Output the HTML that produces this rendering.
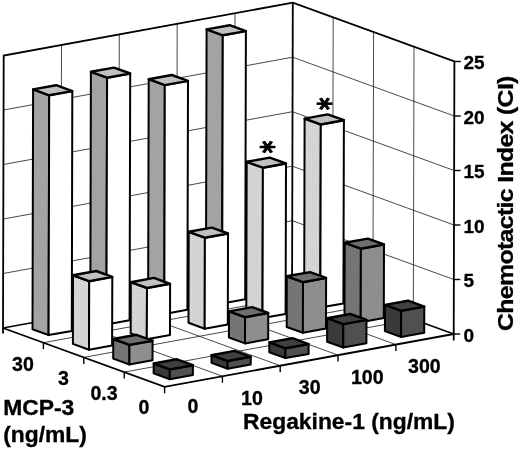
<!DOCTYPE html>
<html><head><meta charset="utf-8"><title>Chemotactic Index</title>
<style>
html,body{margin:0;padding:0;background:#fff;}
svg{display:block;}
text{font-family:"Liberation Sans",sans-serif;font-weight:bold;fill:#000;stroke:#000;stroke-width:0.3px;}
</style></head><body>
<svg width="520" height="449" viewBox="0 0 520 449">
<defs>
<pattern id="pl" width="2" height="2" patternUnits="userSpaceOnUse"><rect width="2" height="2" fill="#c4c4c4"/><rect width="1" height="1" fill="#b6b6b6"/></pattern>
<pattern id="pl2" width="2" height="2" patternUnits="userSpaceOnUse"><rect width="2" height="2" fill="#d8d8d8"/><rect width="1" height="1" fill="#c8c8c8"/></pattern>
</defs>
<rect width="520" height="449" fill="#fff"/>
<polygon points="3.0,328.0 292.1,275.2 292.8,2.7 3.7,55.5" fill="#fff" stroke="none" stroke-width="0" stroke-linejoin="round" />
<polygon points="292.1,275.2 453.7,334.0 454.4,61.5 292.8,2.7" fill="#fff" stroke="none" stroke-width="0" stroke-linejoin="round" />
<line x1="3.1" y1="273.5" x2="292.3" y2="220.7" stroke="#1a1a1a" stroke-width="0.8" />
<line x1="292.3" y1="220.7" x2="453.8" y2="279.5" stroke="#1a1a1a" stroke-width="0.8" />
<line x1="3.3" y1="219.0" x2="292.4" y2="166.2" stroke="#1a1a1a" stroke-width="0.8" />
<line x1="292.4" y1="166.2" x2="454.0" y2="225.0" stroke="#1a1a1a" stroke-width="0.8" />
<line x1="3.4" y1="164.5" x2="292.5" y2="111.7" stroke="#1a1a1a" stroke-width="0.8" />
<line x1="292.5" y1="111.7" x2="454.1" y2="170.5" stroke="#1a1a1a" stroke-width="0.8" />
<line x1="3.5" y1="110.0" x2="292.7" y2="57.2" stroke="#1a1a1a" stroke-width="0.8" />
<line x1="292.7" y1="57.2" x2="454.2" y2="116.0" stroke="#1a1a1a" stroke-width="0.8" />
<line x1="60.8" y1="317.4" x2="61.5" y2="44.9" stroke="#1a1a1a" stroke-width="0.8" />
<line x1="118.7" y1="306.9" x2="119.3" y2="34.4" stroke="#1a1a1a" stroke-width="0.8" />
<line x1="176.5" y1="296.3" x2="177.2" y2="23.8" stroke="#1a1a1a" stroke-width="0.8" />
<line x1="234.3" y1="285.8" x2="235.0" y2="13.3" stroke="#1a1a1a" stroke-width="0.8" />
<line x1="332.5" y1="289.9" x2="333.2" y2="17.4" stroke="#1a1a1a" stroke-width="0.8" />
<line x1="372.9" y1="304.6" x2="373.6" y2="32.1" stroke="#1a1a1a" stroke-width="0.8" />
<line x1="413.3" y1="319.3" x2="414.0" y2="46.8" stroke="#1a1a1a" stroke-width="0.8" />
<line x1="60.8" y1="317.4" x2="222.4" y2="376.2" stroke="#1a1a1a" stroke-width="0.8" />
<line x1="118.7" y1="306.9" x2="280.2" y2="365.7" stroke="#1a1a1a" stroke-width="0.8" />
<line x1="176.5" y1="296.3" x2="338.0" y2="355.1" stroke="#1a1a1a" stroke-width="0.8" />
<line x1="234.3" y1="285.8" x2="395.9" y2="344.6" stroke="#1a1a1a" stroke-width="0.8" />
<line x1="43.4" y1="342.7" x2="332.5" y2="289.9" stroke="#1a1a1a" stroke-width="0.8" />
<line x1="83.8" y1="357.4" x2="372.9" y2="304.6" stroke="#1a1a1a" stroke-width="0.8" />
<line x1="124.2" y1="372.1" x2="413.3" y2="319.3" stroke="#1a1a1a" stroke-width="0.8" />
<line x1="3.0" y1="328.0" x2="292.1" y2="275.2" stroke="#000" stroke-width="1.5" />
<line x1="292.1" y1="275.2" x2="453.7" y2="334.0" stroke="#000" stroke-width="1.5" />
<polyline points="3.0,333.4 3.7,55.5 292.8,2.7 454.4,61.5 453.7,340.5" fill="none" stroke="#000" stroke-width="1.8" stroke-linejoin="miter"/>
<line x1="292.1" y1="275.2" x2="292.8" y2="2.7" stroke="#000" stroke-width="1.8" />
<polyline points="3.0,328.0 164.6,386.8 453.7,334.0" fill="none" stroke="#000" stroke-width="1.8" stroke-linejoin="miter"/>
<line x1="43.4" y1="342.7" x2="43.4" y2="349.2" stroke="#000" stroke-width="1.4" />
<line x1="83.8" y1="357.4" x2="83.8" y2="363.9" stroke="#000" stroke-width="1.4" />
<line x1="124.2" y1="372.1" x2="124.2" y2="378.6" stroke="#000" stroke-width="1.4" />
<line x1="164.6" y1="386.8" x2="164.6" y2="393.3" stroke="#000" stroke-width="1.4" />
<line x1="222.4" y1="376.2" x2="222.4" y2="382.7" stroke="#000" stroke-width="1.4" />
<line x1="280.2" y1="365.7" x2="280.2" y2="372.2" stroke="#000" stroke-width="1.4" />
<line x1="338.0" y1="355.1" x2="338.0" y2="361.6" stroke="#000" stroke-width="1.4" />
<line x1="395.9" y1="344.6" x2="395.9" y2="351.1" stroke="#000" stroke-width="1.4" />
<line x1="453.7" y1="334.0" x2="460.2" y2="334.0" stroke="#000" stroke-width="1.4" />
<line x1="453.8" y1="279.5" x2="460.3" y2="279.5" stroke="#000" stroke-width="1.4" />
<line x1="454.0" y1="225.0" x2="460.5" y2="225.0" stroke="#000" stroke-width="1.4" />
<line x1="454.1" y1="170.5" x2="460.6" y2="170.5" stroke="#000" stroke-width="1.4" />
<line x1="454.2" y1="116.0" x2="460.7" y2="116.0" stroke="#000" stroke-width="1.4" />
<line x1="454.4" y1="61.5" x2="460.9" y2="61.5" stroke="#000" stroke-width="1.4" />
<g><polygon points="205.9,297.6 222.1,303.4 222.8,35.3 206.6,29.4" fill="#a3a3a3" stroke="#000" stroke-width="2.0" stroke-linejoin="round" /><polygon points="222.1,303.4 245.2,299.2 245.9,31.1 222.8,35.3" fill="#ffffff" stroke="#000" stroke-width="2.0" stroke-linejoin="round" /><polygon points="206.6,29.4 229.7,25.2 245.9,31.1 222.8,35.3" fill="url(#pl)" stroke="#000" stroke-width="2.4" stroke-linejoin="round" /></g>
<g><polygon points="148.1,308.1 164.3,314.0 164.8,85.1 148.7,79.2" fill="#a3a3a3" stroke="#000" stroke-width="2.0" stroke-linejoin="round" /><polygon points="164.3,314.0 187.4,309.8 188.0,80.9 164.8,85.1" fill="#ffffff" stroke="#000" stroke-width="2.0" stroke-linejoin="round" /><polygon points="148.7,79.2 171.8,75.0 188.0,80.9 164.8,85.1" fill="url(#pl)" stroke="#000" stroke-width="2.4" stroke-linejoin="round" /></g>
<g><polygon points="90.3,318.7 106.4,324.6 107.1,77.7 90.9,71.8" fill="#a3a3a3" stroke="#000" stroke-width="2.0" stroke-linejoin="round" /><polygon points="106.4,324.6 129.6,320.3 130.2,73.5 107.1,77.7" fill="#ffffff" stroke="#000" stroke-width="2.0" stroke-linejoin="round" /><polygon points="90.9,71.8 114.0,67.6 130.2,73.5 107.1,77.7" fill="url(#pl)" stroke="#000" stroke-width="2.4" stroke-linejoin="round" /></g>
<g><polygon points="32.5,329.2 48.6,335.1 49.2,95.3 33.1,89.4" fill="#a3a3a3" stroke="#000" stroke-width="2.0" stroke-linejoin="round" /><polygon points="48.6,335.1 71.8,330.9 72.3,91.1 49.2,95.3" fill="#ffffff" stroke="#000" stroke-width="2.0" stroke-linejoin="round" /><polygon points="33.1,89.4 56.2,85.2 72.3,91.1 49.2,95.3" fill="url(#pl)" stroke="#000" stroke-width="2.4" stroke-linejoin="round" /></g>
<g><polygon points="304.2,301.7 320.3,307.6 320.8,124.5 304.6,118.6" fill="url(#pl2)" stroke="#000" stroke-width="2.0" stroke-linejoin="round" /><polygon points="320.3,307.6 343.4,303.4 343.9,120.2 320.8,124.5" fill="#ffffff" stroke="#000" stroke-width="2.0" stroke-linejoin="round" /><polygon points="304.6,118.6 327.7,114.4 343.9,120.2 320.8,124.5" fill="url(#pl)" stroke="#000" stroke-width="2.4" stroke-linejoin="round" /></g>
<g><polygon points="246.3,312.3 262.5,318.1 262.9,167.7 246.7,161.8" fill="url(#pl2)" stroke="#000" stroke-width="2.0" stroke-linejoin="round" /><polygon points="262.5,318.1 285.6,313.9 286.0,163.5 262.9,167.7" fill="#ffffff" stroke="#000" stroke-width="2.0" stroke-linejoin="round" /><polygon points="246.7,161.8 269.8,157.6 286.0,163.5 262.9,167.7" fill="url(#pl)" stroke="#000" stroke-width="2.4" stroke-linejoin="round" /></g>
<g><polygon points="188.5,322.8 204.7,328.7 204.9,237.7 188.7,231.8" fill="url(#pl2)" stroke="#000" stroke-width="2.0" stroke-linejoin="round" /><polygon points="204.7,328.7 227.8,324.5 228.0,233.5 204.9,237.7" fill="#ffffff" stroke="#000" stroke-width="2.0" stroke-linejoin="round" /><polygon points="188.7,231.8 211.9,227.6 228.0,233.5 204.9,237.7" fill="url(#pl)" stroke="#000" stroke-width="2.4" stroke-linejoin="round" /></g>
<g><polygon points="130.7,333.4 146.8,339.3 147.0,288.0 130.8,282.2" fill="url(#pl2)" stroke="#000" stroke-width="2.0" stroke-linejoin="round" /><polygon points="146.8,339.3 170.0,335.0 170.1,283.8 147.0,288.0" fill="#ffffff" stroke="#000" stroke-width="2.0" stroke-linejoin="round" /><polygon points="130.8,282.2 153.9,277.9 170.1,283.8 147.0,288.0" fill="url(#pl)" stroke="#000" stroke-width="2.4" stroke-linejoin="round" /></g>
<g><polygon points="72.9,343.9 89.0,349.8 89.2,281.2 73.0,275.3" fill="url(#pl2)" stroke="#000" stroke-width="2.0" stroke-linejoin="round" /><polygon points="89.0,349.8 112.1,345.6 112.3,276.9 89.2,281.2" fill="#ffffff" stroke="#000" stroke-width="2.0" stroke-linejoin="round" /><polygon points="73.0,275.3 96.2,271.0 112.3,276.9 89.2,281.2" fill="url(#pl)" stroke="#000" stroke-width="2.4" stroke-linejoin="round" /></g>
<g><polygon points="344.5,316.4 360.7,322.3 360.9,248.7 344.7,242.8" fill="#757575" stroke="#000" stroke-width="2.0" stroke-linejoin="round" /><polygon points="360.7,322.3 383.8,318.1 384.0,244.5 360.9,248.7" fill="#8e8e8e" stroke="#000" stroke-width="2.0" stroke-linejoin="round" /><polygon points="344.7,242.8 367.9,238.6 384.0,244.5 360.9,248.7" fill="#6e6e6e" stroke="#000" stroke-width="2.4" stroke-linejoin="round" /></g>
<g><polygon points="286.7,327.0 302.9,332.8 303.0,282.2 286.8,276.3" fill="#757575" stroke="#000" stroke-width="2.0" stroke-linejoin="round" /><polygon points="302.9,332.8 326.0,328.6 326.1,277.9 303.0,282.2" fill="#8e8e8e" stroke="#000" stroke-width="2.0" stroke-linejoin="round" /><polygon points="286.8,276.3 310.0,272.1 326.1,277.9 303.0,282.2" fill="#6e6e6e" stroke="#000" stroke-width="2.4" stroke-linejoin="round" /></g>
<g><polygon points="228.9,337.5 245.0,343.4 245.1,317.2 229.0,311.4" fill="#757575" stroke="#000" stroke-width="2.0" stroke-linejoin="round" /><polygon points="245.0,343.4 268.2,339.2 268.2,313.0 245.1,317.2" fill="#8e8e8e" stroke="#000" stroke-width="2.0" stroke-linejoin="round" /><polygon points="229.0,311.4 252.1,307.1 268.2,313.0 245.1,317.2" fill="#6e6e6e" stroke="#000" stroke-width="2.4" stroke-linejoin="round" /></g>
<g><polygon points="113.2,358.6 129.4,364.5 129.4,344.9 113.3,339.0" fill="#757575" stroke="#000" stroke-width="2.0" stroke-linejoin="round" /><polygon points="129.4,364.5 152.5,360.3 152.6,340.7 129.4,344.9" fill="#8e8e8e" stroke="#000" stroke-width="2.0" stroke-linejoin="round" /><polygon points="113.3,339.0 136.4,334.8 152.6,340.7 129.4,344.9" fill="#6e6e6e" stroke="#000" stroke-width="2.4" stroke-linejoin="round" /></g>
<g><polygon points="384.9,331.1 401.1,337.0 401.2,310.8 385.0,304.9" fill="#3a3a3a" stroke="#000" stroke-width="2.0" stroke-linejoin="round" /><polygon points="401.1,337.0 424.2,332.8 424.3,306.6 401.2,310.8" fill="#505050" stroke="#000" stroke-width="2.0" stroke-linejoin="round" /><polygon points="385.0,304.9 408.1,300.7 424.3,306.6 401.2,310.8" fill="#404040" stroke="#000" stroke-width="2.4" stroke-linejoin="round" /></g>
<g><polygon points="327.1,341.7 343.3,347.5 343.3,324.1 327.2,318.2" fill="#3a3a3a" stroke="#000" stroke-width="2.0" stroke-linejoin="round" /><polygon points="343.3,347.5 366.4,343.3 366.5,319.9 343.3,324.1" fill="#505050" stroke="#000" stroke-width="2.0" stroke-linejoin="round" /><polygon points="327.2,318.2 350.3,314.0 366.5,319.9 343.3,324.1" fill="#404040" stroke="#000" stroke-width="2.4" stroke-linejoin="round" /></g>
<g><polygon points="269.3,352.2 285.4,358.1 285.5,348.3 269.3,342.4" fill="#3a3a3a" stroke="#000" stroke-width="2.0" stroke-linejoin="round" /><polygon points="285.4,358.1 308.6,353.9 308.6,344.1 285.5,348.3" fill="#505050" stroke="#000" stroke-width="2.0" stroke-linejoin="round" /><polygon points="269.3,342.4 292.4,338.2 308.6,344.1 285.5,348.3" fill="#404040" stroke="#000" stroke-width="2.4" stroke-linejoin="round" /></g>
<g><polygon points="211.5,362.8 227.6,368.7 227.6,361.0 211.5,355.2" fill="#3a3a3a" stroke="#000" stroke-width="2.0" stroke-linejoin="round" /><polygon points="227.6,368.7 250.7,364.4 250.8,356.8 227.6,361.0" fill="#505050" stroke="#000" stroke-width="2.0" stroke-linejoin="round" /><polygon points="211.5,355.2 234.6,350.9 250.8,356.8 227.6,361.0" fill="#404040" stroke="#000" stroke-width="2.4" stroke-linejoin="round" /></g>
<g><polygon points="153.6,373.3 169.8,379.2 169.8,369.4 153.7,363.5" fill="#3a3a3a" stroke="#000" stroke-width="2.0" stroke-linejoin="round" /><polygon points="169.8,379.2 192.9,375.0 192.9,365.2 169.8,369.4" fill="#505050" stroke="#000" stroke-width="2.0" stroke-linejoin="round" /><polygon points="153.7,363.5 176.8,359.3 192.9,365.2 169.8,369.4" fill="#404040" stroke="#000" stroke-width="2.4" stroke-linejoin="round" /></g>
<text transform="translate(463.4,341.9) scale(1.0,1)" font-size="19.0" text-anchor="start">0</text>
<text transform="translate(463.4,287.4) scale(1.0,1)" font-size="19.0" text-anchor="start">5</text>
<text transform="translate(463.4,232.9) scale(1.0,1)" font-size="19.0" text-anchor="start">10</text>
<text transform="translate(463.4,178.4) scale(1.0,1)" font-size="19.0" text-anchor="start">15</text>
<text transform="translate(463.4,123.9) scale(1.0,1)" font-size="19.0" text-anchor="start">20</text>
<text transform="translate(463.4,69.4) scale(1.0,1)" font-size="19.0" text-anchor="start">25</text>
<text transform="translate(23.0,370.5) scale(1.01,1)" font-size="19.4" text-anchor="middle">30</text>
<text transform="translate(63.5,384.5) scale(1.01,1)" font-size="19.4" text-anchor="middle">3</text>
<text transform="translate(104.0,399.5) scale(1.01,1)" font-size="19.4" text-anchor="middle">0.3</text>
<text transform="translate(144.0,414.0) scale(1.01,1)" font-size="19.4" text-anchor="middle">0</text>
<text transform="translate(193.0,413.3) scale(1.01,1)" font-size="19.4" text-anchor="middle">0</text>
<text transform="translate(252.0,405.3) scale(1.01,1)" font-size="19.4" text-anchor="middle">10</text>
<text transform="translate(309.7,393.8) scale(1.01,1)" font-size="19.4" text-anchor="middle">30</text>
<text transform="translate(367.3,383.8) scale(1.01,1)" font-size="19.4" text-anchor="middle">100</text>
<text transform="translate(424.4,373.2) scale(1.01,1)" font-size="19.4" text-anchor="middle">300</text>
<text transform="translate(3.2,414.6) scale(1.063,1)" font-size="21.5" text-anchor="start">MCP-3</text>
<text transform="translate(3.2,442.3) scale(1.063,1)" font-size="21.5" text-anchor="start">(ng/mL)</text>
<text transform="translate(243.0,428.8) scale(1.063,1)" font-size="21.5" text-anchor="start">Regakine-1 (ng/mL)</text>
<text transform="translate(513.4,203.6) rotate(-90) scale(1.11,1)" font-size="22.4" letter-spacing="-0.6" text-anchor="middle">Chemotactic Index (CI)</text>
<text transform="translate(268.6,146.7) rotate(90) scale(0.238,0.327) translate(-25.5,51.5)" style="font-family:'DejaVu Sans',sans-serif;stroke-width:3px" font-size="100" x="0" y="0">*</text>
<text transform="translate(325.4,103.6) rotate(90) scale(0.238,0.327) translate(-25.5,51.5)" style="font-family:'DejaVu Sans',sans-serif;stroke-width:3px" font-size="100" x="0" y="0">*</text>
</svg>
</body></html>
